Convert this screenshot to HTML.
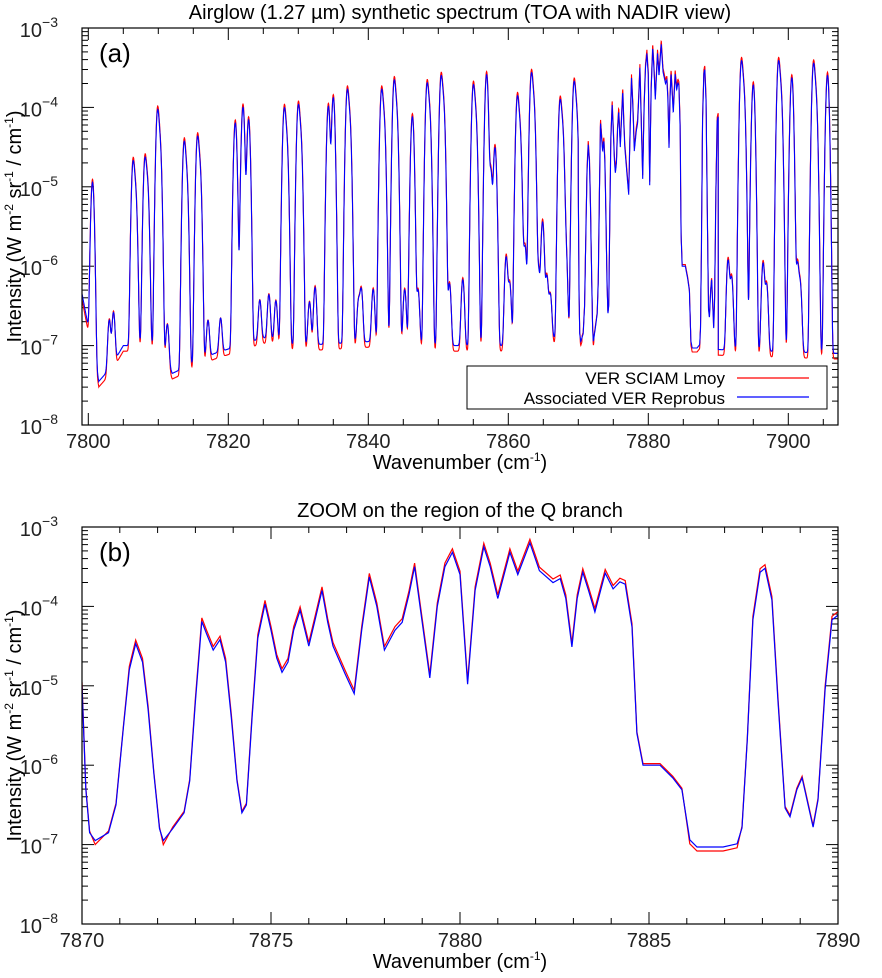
<!DOCTYPE html>
<html><head><meta charset="utf-8"><style>
html,body{margin:0;padding:0;background:#fff;}
svg{display:block;font-family:"Liberation Sans",sans-serif;}
</style></head><body>
<svg id="chart" width="882" height="978" viewBox="0 0 882 978" xmlns="http://www.w3.org/2000/svg">
<text x="460" y="19" font-size="20" text-anchor="middle">Airglow (1.27 µm) synthetic spectrum (TOA with NADIR view)</text>
<text x="460" y="517" font-size="20" text-anchor="middle">ZOOM on the region of the Q branch</text>
<g id="pa"></g>
<g id="pb"></g>
</svg>
<script>
// Panel (a) line list: wavenumber (cm-1) and log10 peak intensity
const aLinePos = [7800.6,7803.0,7803.6,7806.4,7806.75,7808.1,7808.45,7809.9,7810.25,7811.3,7813.7,7814.05,7815.6,7815.95,7817.1,7818.9,7821.0,7822.1,7822.9,7824.5,7825.8,7826.8,7828.0,7828.35,7830.0,7830.35,7831.6,7832.4,7834.3,7835.0,7837.0,7837.35,7838.6,7839.0,7840.7,7841.9,7842.25,7843.7,7844.05,7845.2,7846.3,7847.1,7848.4,7848.75,7850.4,7850.75,7851.6,7853.5,7855.0,7855.35,7856.9,7857.5,7858.1,7859.7,7860.2,7861.3,7861.65,7862.0,7862.4,7863.3,7863.65,7864.3,7864.9,7865.5,7866.0,7867.4,7867.75,7868.2,7869.4,7869.75,7891.4,7891.9,7893.3,7893.65,7895.0,7896.4,7896.9,7898.6,7898.95,7900.5,7901.3,7901.7,7903.6,7903.95,7905.6];
const aLinePeak = [-4.95,-6.8,-6.7,-4.70,-5.1,-4.66,-5.0,-4.05,-4.5,-6.9,-4.45,-4.9,-4.39,-4.8,-6.87,-6.86,-4.2,-4.0,-4.16,-6.6,-6.5,-6.6,-4.03,-4.45,-3.99,-4.4,-6.6,-6.36,-3.99,-3.88,-3.8,-4.2,-6.6,-6.4,-6.4,-3.8,-4.2,-3.68,-4.1,-6.4,-4.12,-6.4,-3.72,-4.1,-3.63,-4.0,-6.3,-6.24,-3.74,-4.15,-3.59,-4.8,-4.51,-5.92,-6.3,-3.88,-4.3,-6.0,-5.8,-3.59,-4.0,-6.1,-5.46,-6.2,-6.5,-3.93,-4.3,-5.8,-3.70,-4.1,-5.96,-6.2,-3.44,-3.85,-3.72,-6.0,-6.3,-3.44,-3.85,-3.63,-6.0,-6.3,-3.47,-3.9,-3.6];
// Panel (a) continuum (log10) knots
const aBaseX = [7799,7801.5,7803,7805,7810,7812,7818,7825,7830,7840,7850,7860,7866,7869,7890,7907.5];
const aBaseY = [-6.3,-7.45,-7.3,-7.0,-7.0,-7.35,-7.1,-6.9,-7.0,-6.95,-7.0,-7.0,-6.9,-6.9,-7.05,-7.1];
// Panel (b) Q-branch spectrum (Reprobus, blue) log10 intensities
const bWave = [7870.0,7870.1,7870.2,7870.35,7870.7,7870.9,7871.1,7871.25,7871.42,7871.6,7871.75,7871.9,7872.05,7872.15,7872.4,7872.7,7872.85,7873.0,7873.17,7873.3,7873.47,7873.65,7873.8,7873.95,7874.1,7874.23,7874.35,7874.5,7874.65,7874.84,7875.0,7875.15,7875.29,7875.45,7875.6,7875.77,7876.0,7876.15,7876.35,7876.5,7876.64,7876.96,7877.2,7877.4,7877.6,7877.8,7878.0,7878.28,7878.47,7878.65,7878.8,7879.0,7879.2,7879.4,7879.6,7879.8,7880.0,7880.2,7880.4,7880.63,7880.8,7881.0,7881.32,7881.53,7881.85,7882.1,7882.46,7882.65,7882.8,7882.96,7883.1,7883.25,7883.4,7883.57,7883.84,7884.05,7884.23,7884.37,7884.55,7884.68,7884.84,7885.29,7885.63,7885.87,7886.08,7886.27,7886.96,7887.33,7887.46,7887.6,7887.75,7887.94,7888.07,7888.25,7888.41,7888.6,7888.73,7888.91,7889.05,7889.21,7889.34,7889.47,7889.66,7889.84,7890.0];
const bBlue = [-5.0,-6.3,-6.85,-6.95,-6.85,-6.5,-5.5,-4.8,-4.47,-4.7,-5.3,-6.1,-6.8,-6.95,-6.8,-6.6,-6.2,-5.2,-4.19,-4.35,-4.55,-4.42,-4.7,-5.4,-6.2,-6.6,-6.5,-5.4,-4.4,-3.97,-4.3,-4.65,-4.83,-4.7,-4.3,-4.05,-4.5,-4.2,-3.8,-4.2,-4.5,-4.85,-5.1,-4.3,-3.63,-4.0,-4.55,-4.3,-4.2,-3.85,-3.5,-4.2,-4.9,-4.0,-3.5,-3.32,-3.6,-4.98,-3.8,-3.25,-3.5,-3.9,-3.32,-3.6,-3.2,-3.55,-3.7,-3.65,-3.9,-4.51,-3.9,-3.57,-3.8,-4.07,-3.58,-3.78,-3.69,-3.72,-4.26,-5.6,-6.0,-6.0,-6.16,-6.31,-6.94,-7.03,-7.03,-6.99,-6.79,-5.68,-4.17,-3.57,-3.52,-3.92,-5.18,-6.54,-6.65,-6.31,-6.16,-6.5,-6.78,-6.44,-5.05,-4.17,-4.11];
const redPeakShift = 0.045, redFloorShift = -0.05;
const yTickExp = [-3,-4,-5,-6,-7,-8];
const aXTicks = [7800,7820,7840,7860,7880,7900];
const bXTicks = [7870,7875,7880,7885,7890];

const NS="http://www.w3.org/2000/svg";
function mk(tag,attrs,parent){const e=document.createElementNS(NS,tag);for(const k in attrs)e.setAttribute(k,attrs[k]);parent.appendChild(e);return e;}
function interp(xs,ys,x){if(x<=xs[0])return ys[0];for(let i=1;i<xs.length;i++){if(x<=xs[i]){const t=(x-xs[i-1])/(xs[i]-xs[i-1]);return ys[i-1]+t*(ys[i]-ys[i-1]);}}return ys[ys.length-1];}
function redOf(v){return v>-5.5?v+redPeakShift:(v<-6.9?v+redFloorShift:v+0.02);}

function panel(g,L,T,R,B,x0,x1,majors,minorStep,tag,label,clipId){
  const xs=v=>L+(v-x0)/(x1-x0)*(R-L);
  const ys=lv=>T+(-3-lv)/5*(B-T);
  const defs=mk('defs',{},g);const cp=mk('clipPath',{id:clipId},defs);mk('rect',{x:L,y:T,width:R-L,height:B-T},cp);
  for(const e of yTickExp){
    const y=ys(e);
    if(e<-3&&e>-8){const t1=mk('line',{x1:L,x2:L+12,y1:y,y2:y,stroke:'#000','stroke-width':1},g);
    
    
    const t2=mk('line',{x1:R-12,x2:R,y1:y,y2:y,stroke:'#000','stroke-width':1},g);
    
    }
    const tx=mk('text',{x:58,y:y+9,'font-size':20,'text-anchor':'end',fill:'#222'},g);
    
    
    tx.textContent='10';
    const sp=mk('tspan',{dy:-10,'font-size':14},tx);sp.textContent='\u2212'+(-e);
    if(e>-8){for(let m=2;m<=9;m++){const yy=ys(e-1+Math.log10(m));
      const a=mk('line',{x1:L,x2:L+6,y1:yy,y2:yy,stroke:'#000','stroke-width':1},g);
      
      
      const b=mk('line',{x1:R-6,x2:R,y1:yy,y2:yy,stroke:'#000','stroke-width':1},g);
      
      }}
  }
  for(let v=Math.ceil(x0/minorStep)*minorStep;v<=x1+1e-6;v+=minorStep){
    const x=xs(v);const isMaj=majors.some(m=>Math.abs(m-v)<1e-6);const len=isMaj?12:6;
    const a=mk('line',{x1:x,x2:x,y1:B,y2:B-len,stroke:'#000','stroke-width':1},g);
    
    
    const b=mk('line',{x1:x,x2:x,y1:T,y2:T+len,stroke:'#000','stroke-width':1},g);
    
    
  }
  for(const m of majors){const t=mk('text',{x:xs(m),y:B+23,'font-size':20,'text-anchor':'middle',fill:'#222'},g);
    
    
    t.textContent=m;}
  const xl=mk('text',{x:460,y:B+44,'font-size':20,'text-anchor':'middle'},g);
  
  
  xl.innerHTML='Wavenumber (cm<tspan dy="-8" font-size="12">-1</tspan><tspan dy="8">)</tspan>';
  const cy=(T+B)/2;
  const yl=mk('text',{x:0,y:0,'font-size':20,'text-anchor':'middle',transform:`translate(21,${cy}) rotate(-90)`},g);
  
  
  yl.innerHTML='Intensity (W m<tspan dy="-8" font-size="12">-2</tspan><tspan dy="8"> sr</tspan><tspan dy="-8" font-size="12">-1</tspan><tspan dy="8"> / cm</tspan><tspan dy="-8" font-size="12">-1</tspan><tspan dy="8">)</tspan>';
  const pl=mk('text',{x:L+17,y:T+34,'font-size':26},g);
  
  
  pl.textContent=label;
  return {xs,ys};
}

const ga=document.getElementById('pa');
const A=panel(ga,82,28,838,425,7799.1,7907.1,aXTicks,5,'a','(a)','clipA');
function aVal(x,red){
  if(x>=7870&&x<=7890){const v=interp(bWave,bBlue,x);return red?redOf(v):v;}
  let s=Math.pow(10,interp(aBaseX,aBaseY,x))*(red?0.85:1);
  for(let i=0;i<aLinePos.length;i++){const d=x-aLinePos[i];if(Math.abs(d)<2){s+=Math.pow(10,aLinePeak[i])*(red?1.1:1)*Math.exp(-d*d/(2*0.18*0.18));}}
  return Math.log10(s);
}
for(const red of [true,false]){
  let pts=[];for(let x=7799.1;x<=7907.1;x+=0.02){pts.push(A.xs(x).toFixed(1)+','+A.ys(aVal(x,red)).toFixed(1));}
  const p=mk('polyline',{points:pts.join(' '),fill:'none',stroke:red?'#ff0000':'#0000ff','stroke-width':1.1,'clip-path':'url(#clipA)'},ga);
  
  
}
mk('rect',{x:82,y:28,width:756,height:397,fill:'none',stroke:'#000','stroke-width':1.2},ga);
const lg=mk('g',{},ga);


mk('rect',{x:467,y:366,width:360,height:43,fill:'#fff',stroke:'#000','stroke-width':1},lg);
const l1=mk('text',{x:725,y:384,'font-size':17,'text-anchor':'end'},lg);l1.textContent='VER SCIAM Lmoy';


const l2=mk('text',{x:725,y:404,'font-size':17,'text-anchor':'end'},lg);l2.textContent='Associated VER Reprobus';


mk('line',{x1:737,x2:809,y1:378,y2:378,stroke:'#ff0000','stroke-width':1.2},lg);
mk('line',{x1:737,x2:809,y1:397,y2:397,stroke:'#0000ff','stroke-width':1.2},lg);

const gb=document.getElementById('pb');
const Bp=panel(gb,82,527,838,924,7870,7890,bXTicks,1,'b','(b)','clipB');
for(const red of [true,false]){
  const pts=bWave.map((w,i)=>Bp.xs(w).toFixed(1)+','+Bp.ys(red?redOf(bBlue[i]):bBlue[i]).toFixed(1));
  const p=mk('polyline',{points:pts.join(' '),fill:'none',stroke:red?'#ff0000':'#0000ff','stroke-width':1.2,'clip-path':'url(#clipB)'},gb);
  
  
}
mk('rect',{x:82,y:527,width:756,height:397,fill:'none',stroke:'#000','stroke-width':1.2},gb);
</script>
</body></html>
